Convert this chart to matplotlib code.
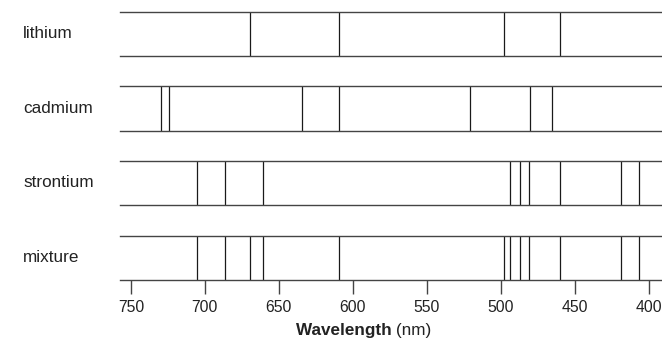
import matplotlib
matplotlib.use("Agg")
import matplotlib.pyplot as plt

plt.rcParams['font.family'] = ['Liberation Sans', 'DejaVu Sans']

elements = ["lithium", "cadmium", "strontium", "mixture"]
lithium = [669.5, 609.5, 497.5, 460.0]
cadmium = [729.5, 724.0, 634.5, 609.5, 520.5, 480.5, 465.5]
strontium = [705.5, 686.5, 660.5, 493.5, 487.0, 481.0, 460.0, 419.0, 406.5]
mixture = [705.5, 686.5, 669.5, 660.5, 609.5, 497.5, 493.5, 487.0, 481.0, 460.0, 419.0, 406.5]
series = [lithium, cadmium, strontium, mixture]
ticks = [750, 700, 650, 600, 550, 500, 450, 400]

W, H = 662, 339
fig = plt.figure(figsize=(W / 100, H / 100), dpi=100)

tops = [11.7, 86.3, 160.7, 235.5]
ph = 44.5
left_px, right_px = 120, 670
xlim = (757.4, 385.6)

axes = []
for i, (name, lines) in enumerate(zip(elements, series)):
    top = tops[i]
    ax = fig.add_axes([left_px / W, 1 - (top + ph) / H, (right_px - left_px) / W, ph / H])
    ax.set_xlim(*xlim)
    ax.set_ylim(0, 1)
    ax.vlines(lines, 0, 1, colors='#1a1a1a', linewidth=0.9)
    for s in ['left', 'right']:
        ax.spines[s].set_visible(False)
    for s in ['top', 'bottom']:
        ax.spines[s].set_color('#444444')
        ax.spines[s].set_linewidth(1.0)
    ax.set_yticks([])
    if i < 3:
        ax.set_xticks([])
    else:
        ax.set_xticks(ticks)
        ax.set_xticklabels([str(t) for t in ticks], fontsize=11.3, color='#222222')
        ax.tick_params(axis='x', length=10, width=1.0, color='#444444', pad=4.5)
    fig.text(23 / W, 1 - (top + ph / 2) / H, name, fontsize=12.3, color='#222222',
             ha='left', va='center')
    axes.append(ax)

fig.text(396 / W, 1 - 331 / H, "Wavelength ", fontsize=12.3, fontweight='bold',
         color='#222222', ha='right', va='center')
fig.text(396 / W, 1 - 331 / H, "(nm)", fontsize=12.3, color='#222222',
         ha='left', va='center')

fig.savefig("out.png", dpi=100)
